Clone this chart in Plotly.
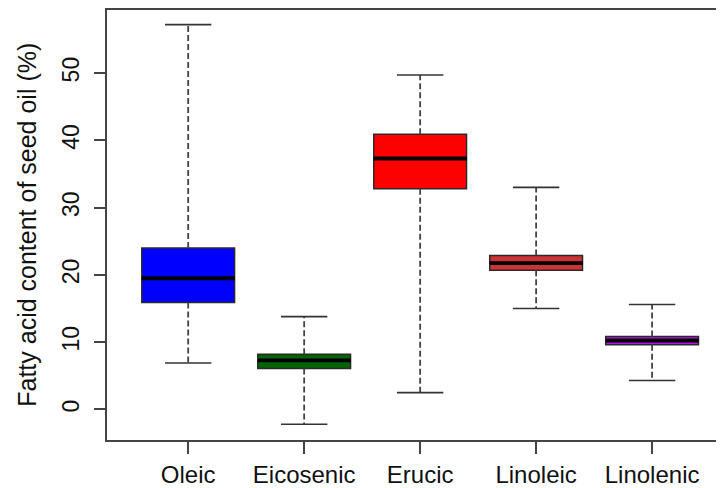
import plotly.graph_objects as go

categories = ["Oleic", "Eicosenic", "Erucic", "Linoleic", "Linolenic"]
lower_whisker = [6.9, -2.2, 2.5, 15.0, 4.3]
q1 = [15.9, 6.1, 32.8, 20.7, 9.6]
median = [19.5, 7.3, 37.3, 21.75, 10.25]
q3 = [24.0, 8.2, 40.9, 22.9, 10.85]
upper_whisker = [57.2, 13.8, 49.7, 33.0, 15.6]
colors = ["#0000FF", "#006400", "#FF0000", "#CD3333", "#B414E6"]
y_ticks = [0, 10, 20, 30, 40, 50]
y_title = "Fatty acid content of seed oil (%)"

BOX_W = 0.8
CAP_W = 0.4
pos = list(range(1, len(categories) + 1))
dark = "#2a2a2a"

fig = go.Figure()

# boxes
fig.add_trace(go.Bar(
    x=pos, base=q1, y=[b - a for a, b in zip(q1, q3)], width=BOX_W,
    marker=dict(color=colors, line=dict(color=dark, width=1.5)),
    hoverinfo="skip", showlegend=False,
))

for i, p in enumerate(pos):
    # whiskers (dashed)
    for a, b in ((q3[i], upper_whisker[i]), (q1[i], lower_whisker[i])):
        fig.add_trace(go.Scatter(
            x=[p, p], y=[a, b], mode="lines",
            line=dict(color="#444444", width=1.8, dash="6px,3px"),
            showlegend=False, hoverinfo="skip"))
    # caps
    for v in (upper_whisker[i], lower_whisker[i]):
        fig.add_trace(go.Scatter(
            x=[p - CAP_W / 2, p + CAP_W / 2], y=[v, v], mode="lines",
            line=dict(color="#333333", width=1.6),
            showlegend=False, hoverinfo="skip"))
    # median
    fig.add_trace(go.Scatter(
        x=[p - BOX_W / 2, p + BOX_W / 2], y=[median[i], median[i]], mode="lines",
        line=dict(color="#000000", width=3.8),
        showlegend=False, hoverinfo="skip"))

fig.add_annotation(
    text=y_title, textangle=-90, xref="paper", yref="paper",
    x=-0.13, y=0.5, xanchor="center", yanchor="middle", showarrow=False,
    font=dict(family="Liberation Sans, Arial", size=25, color="#111111"))

fig.update_layout(
    width=716, height=480,
    margin=dict(l=99, r=0, t=0, b=48),
    paper_bgcolor="white", plot_bgcolor="white",
    font=dict(family="Liberation Sans, Arial", color="#111111"),
    xaxis=dict(
        range=[0.3, 5.62], tickmode="array", tickvals=pos, ticktext=categories,
        ticks="outside", ticklen=12, tickwidth=1.5, tickcolor="#444444",
        showline=True, linecolor="#444444", linewidth=1.5, mirror=True,
        showgrid=False, zeroline=False, tickfont=dict(size=24),
    ),
    yaxis=dict(
        range=[-4.54, 59.37], tickmode="array", tickvals=y_ticks,
        ticktext=[str(v) for v in y_ticks], tickangle=-90,
        ticks="outside", ticklen=11, tickwidth=1.5, tickcolor="#444444",
        showline=True, linecolor="#444444", linewidth=1.5,
        showgrid=False, zeroline=False, tickfont=dict(size=23),
        ticklabelstandoff=6,
    ),
)

fig.write_html("out.html")
